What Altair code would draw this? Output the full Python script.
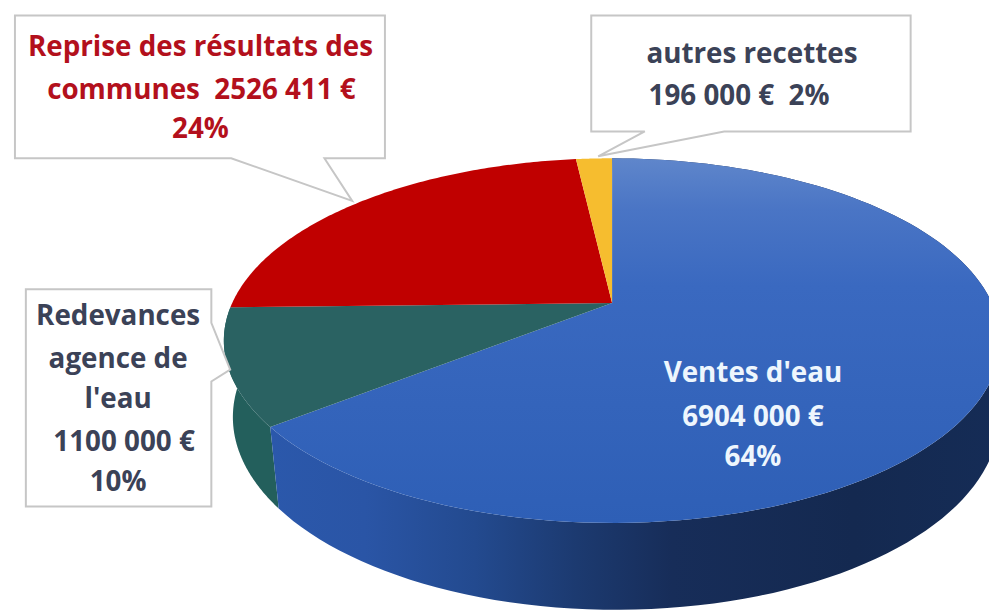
import math
import altair as alt

# --- data ---
categories = ["Ventes d'eau", "Redevances agence de l'eau", "Reprise des résultats des communes", "autres recettes"]
amounts = [6904000, 1100000, 2526411, 196000]
top_colors = ["#3a68c0", "#2a6262", "#c00000", "#f6bd2f"]
label_lines = [
    ["Ventes d'eau", "6904 000 €", "64%"],
    ["Redevances", "agence de", "l'eau", "1100 000 €", "10%"],
    ["Reprise des résultats des", "communes\u00a0\u00a02526 411 €", "24%"],
    ["autres recettes", "196 000 €\u00a0\u00a02%"],
]

# --- layout (pixels in the page) ---
OFF = 8
TOP = dict(cx=617, y0=303, a=176, b=383, k=0.206)
BOT = dict(cx=621, y0=378, a=186, b=378, k=0.206)


def rim(phi, e):
    den = 1 + e["k"] * math.cos(phi)
    return [e["cx"] + e["b"] * math.sin(phi) / den, e["y0"] - e["a"] * math.cos(phi) / den]


def arc(start, end, e, n=120):
    return [rim(start + (end - start) * i / n, e) for i in range(n + 1)]


total = sum(amounts)
edges = [0.0]
for v in amounts:
    edges.append(edges[-1] + v / total * 2 * math.pi)


def poly(points):
    pts = points + [points[0]]
    return {"type": "Feature", "properties": {}, "geometry": {"type": "Polygon", "coordinates": [pts]}}


def grad(stops, horizontal=False):
    return alt.LinearGradient(
        gradient="linear",
        stops=[alt.GradientStop(color=c, offset=o) for o, c in stops],
        x1=0, x2=1 if horizontal else 0, y1=0, y2=0 if horizontal else 1,
    )


def shape(points, **mark):
    return (
        alt.Chart(alt.Data(values=[poly(points)]))
        .mark_geoshape(**mark)
        .project(type="identity", scale=1, translate=[-OFF, -OFF])
    )


layers = []

# side walls (only the slices facing the viewer)
side_blue = arc(edges[0], edges[1], TOP) + arc(edges[1], edges[0], BOT)
side_green = arc(edges[1], edges[2], TOP) + arc(edges[2], edges[1], BOT)
layers.append(shape(side_green, fill="#235f5c"))
layers.append(shape(side_blue, fill=grad([
    (0.0, "#2b58ab"), (0.13, "#2a55a6"), (0.28, "#234a8f"), (0.42, "#1c3a70"),
    (0.55, "#172d59"), (0.8, "#142950"), (1.0, "#152c56"),
], horizontal=True)))

# top faces
apex = [TOP["cx"], TOP["y0"]]
for i, col in enumerate(top_colors):
    pts = [apex] + arc(edges[i], edges[i + 1], TOP)
    if i == 0:
        layers.append(shape(pts, fill=grad([
            (0.0, "#5f86cb"), (0.14, "#4a75c5"), (0.35, "#3a69c0"), (1.0, "#2e5fb6"),
        ])))
    else:
        layers.append(shape(pts, fill=col))

# callout boxes
BORDER = "#c6c6c6"
layers.append(shape([[15, 13], [388, 13], [388, 157], [327, 157], [355, 200], [233, 157], [15, 157]],
                    fill="white", stroke=BORDER, strokeWidth=2))
layers.append(shape([[26, 289], [213, 289], [213, 323], [232, 370], [213, 382], [213, 508], [26, 508]],
                    fill="white", stroke=BORDER, strokeWidth=2))
layers.append(shape([[596, 13], [918, 13], [918, 130], [730, 130], [603, 155], [650, 130], [596, 130]],
                    fill="white", stroke=BORDER, strokeWidth=2))

# labels
label_style = [
    ([759, 759, 759], [383, 427, 467], "#eef6fd"),
    ([119, 119, 119, 125, 119], [325, 368, 409, 452, 492], "#3b4257"),
    ([202, 203, 202], [54, 97, 137], "#b3101c"),
    ([758, 745], [61, 103], "#3b4257"),
]
rows = []
for lines, (xs, ys, col) in zip(label_lines, label_style):
    for line, x, y in zip(lines, xs, ys):
        rows.append({"t": line, "x": x - OFF, "y": y - OFF, "c": col})

text = alt.Chart(alt.Data(values=rows)).mark_text(
    font="Open Sans", fontWeight="bold", fontSize=28, align="center", baseline="alphabetic"
).encode(
    x=alt.X("x:Q", scale=None),
    y=alt.Y("y:Q", scale=None),
    text="t:N",
    color=alt.Color("c:N", scale=None),
)
layers.append(text)

chart = alt.layer(*layers).properties(
    width=989, height=606, padding=0, autosize=alt.AutoSizeParams(type="none"), background="white"
).configure_view(stroke=None)

chart.save("out.html", embed_options={"renderer": "svg", "actions": False})
